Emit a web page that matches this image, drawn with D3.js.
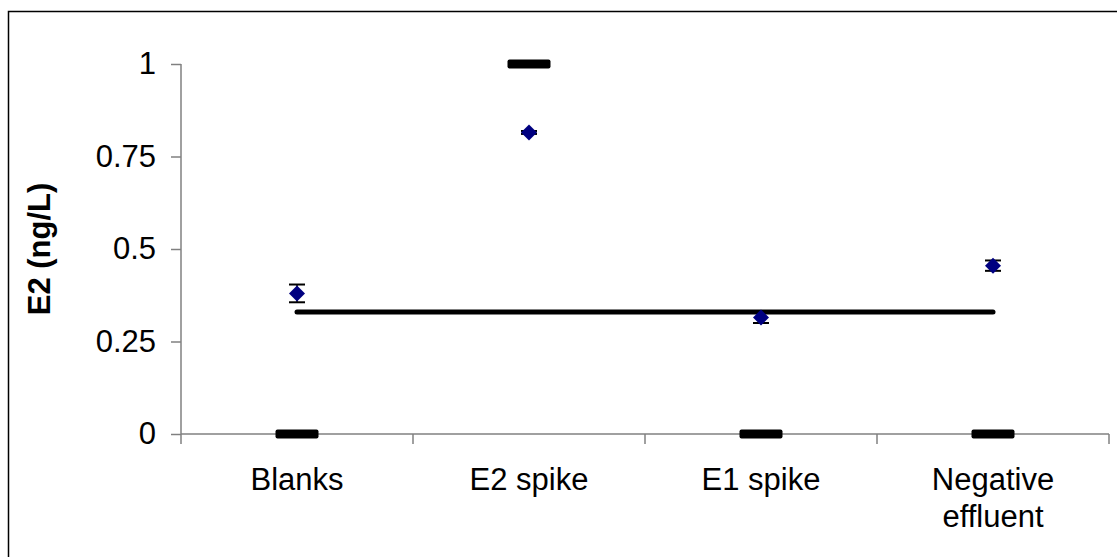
<!DOCTYPE html>
<html>
<head>
<meta charset="utf-8">
<script src="https://cdn.jsdelivr.net/npm/d3@7"></script>
<style>
  html, body { margin: 0; padding: 0; background: #fff; }
  svg { display: block; font-family: "Liberation Sans", Arial, sans-serif; }
</style>
</head>
<body>
<div id="chart"></div>
<script>
// chart data
const categories = ["Blanks", "E2 spike", "E1 spike", "Negative effluent"];
const measured = [0.38, 0.815, 0.315, 0.455];
const errors = [0.024, 0.004, 0.015, 0.014];
const expected = [0, 1, 0, 0];
const lodValue = 0.33;
const yTicks = [0, 0.25, 0.5, 0.75, 1];
const yTickLabels = ["0", "0.25", "0.5", "0.75", "1"];

const width = 1117, height = 557;
const plotLeft = 181, plotRight = 1109, plotTop = 64, plotBottom = 434;

const svg = d3.select("#chart").append("svg")
  .attr("width", width)
  .attr("height", height);

// outer frame
svg.append("rect")
  .attr("x", 8.5).attr("y", 11.5)
  .attr("width", 1130).attr("height", 570)
  .attr("fill", "none")
  .attr("stroke", "#000")
  .attr("stroke-width", 1.5);

const x = d3.scaleBand().domain(categories).range([plotLeft, plotRight]).padding(0);
const y = d3.scaleLinear().domain([0, 1]).range([plotBottom, plotTop]);
const cx = d => x(d) + x.bandwidth() / 2;

// y axis
const yAxis = svg.append("g")
  .attr("transform", `translate(${plotLeft},0)`)
  .call(d3.axisLeft(y).tickValues(yTicks).tickFormat((d, i) => yTickLabels[i]).tickSize(10).tickPadding(15));
yAxis.select(".domain").remove();
yAxis.append("line")
  .attr("x1", 0).attr("x2", 0)
  .attr("y1", plotTop).attr("y2", plotBottom + 10)
  .attr("stroke", "#808080").attr("stroke-width", 1.5);
yAxis.selectAll(".tick line").attr("stroke", "#808080").attr("stroke-width", 1.5);
yAxis.selectAll(".tick text")
  .attr("font-size", 31)
  .attr("font-family", "'Liberation Sans', Arial, sans-serif")
  .attr("fill", "#000");

// x axis (ticks at category boundaries)
const xg = svg.append("g");
xg.append("line")
  .attr("x1", plotLeft).attr("x2", plotRight)
  .attr("y1", plotBottom).attr("y2", plotBottom)
  .attr("stroke", "#808080").attr("stroke-width", 1.5);
const bounds = categories.map(c => x(c)).slice(1).concat([plotRight]);
xg.selectAll("line.tk").data(bounds).join("line")
  .attr("class", "tk")
  .attr("x1", d => d).attr("x2", d => d)
  .attr("y1", plotBottom).attr("y2", plotBottom + 10)
  .attr("stroke", "#808080").attr("stroke-width", 1.5);

// category labels
const labels = xg.selectAll("text.cat").data(categories).join("text")
  .attr("class", "cat")
  .attr("text-anchor", "middle")
  .attr("font-size", 31)
  .attr("fill", "#000")
  .attr("x", d => cx(d))
  .attr("y", 490);
labels.each(function(d) {
  const words = d === "Negative effluent" ? ["Negative", "effluent"] : [d];
  d3.select(this).selectAll("tspan").data(words).join("tspan")
    .attr("x", cx(d))
    .attr("dy", (w, i) => i === 0 ? 0 : 37)
    .text(w => w);
});

// y axis title
svg.append("text")
  .attr("transform", `translate(50,${(plotTop + plotBottom) / 2}) rotate(-90)`)
  .attr("text-anchor", "middle")
  .attr("font-size", 31)
  .attr("font-weight", "bold")
  .attr("fill", "#000")
  .text("E2 (ng/L)");

// detection line
svg.append("line")
  .attr("x1", cx(categories[0])).attr("x2", cx(categories[categories.length - 1]))
  .attr("y1", y(lodValue)).attr("y2", y(lodValue))
  .attr("stroke", "#000").attr("stroke-width", 5)
  .attr("stroke-linecap", "round");

// expected value dashes
svg.selectAll("rect.exp").data(expected).join("rect")
  .attr("class", "exp")
  .attr("x", (d, i) => cx(categories[i]) - 21.5)
  .attr("y", d => y(d) - 4.5)
  .attr("width", 43).attr("height", 9)
  .attr("rx", 2)
  .attr("fill", "#000");

// error bars
const eb = svg.selectAll("g.err").data(measured).join("g").attr("class", "err");
eb.append("line")
  .attr("x1", (d, i) => cx(categories[i])).attr("x2", (d, i) => cx(categories[i]))
  .attr("y1", (d, i) => y(d + errors[i])).attr("y2", (d, i) => y(d - errors[i]))
  .attr("stroke", "#000").attr("stroke-width", 1.5);
[1, -1].forEach(s => {
  eb.append("line")
    .attr("x1", (d, i) => cx(categories[i]) - 8).attr("x2", (d, i) => cx(categories[i]) + 8)
    .attr("y1", (d, i) => y(d + s * errors[i])).attr("y2", (d, i) => y(d + s * errors[i]))
    .attr("stroke", "#000").attr("stroke-width", 2);
});

// measured markers
svg.selectAll("path.pt").data(measured).join("path")
  .attr("class", "pt")
  .attr("d", "M0,-8L8,0L0,8L-8,0Z")
  .attr("transform", (d, i) => `translate(${cx(categories[i])},${y(d)})`)
  .attr("fill", "#000080");
</script>
</body>
</html>
